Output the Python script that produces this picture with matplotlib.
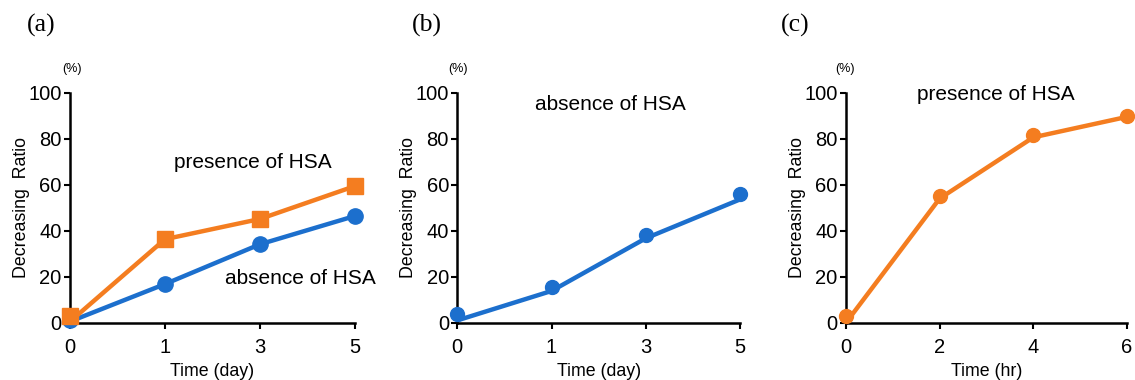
#!/usr/bin/env python3
# Three panels of decreasing ratio over time, with and without HSA.

import matplotlib
matplotlib.use('Agg')
import matplotlib.pyplot as plt

ORANGE = '#F47D20'
BLUE = '#1C6FCD'

# (a) days, shown as evenly spaced categories
days = ['0', '1', '3', '5']
a_presence = [2.9, 36.3, 45.1, 59.4]
a_absence = [1.0, 16.8, 34.1, 46.4]
a_presence_line = [0.5, 36.3, 45.1, 59.4]
a_absence_line = [0.5, 16.8, 34.1, 46.4]

# (b) absence of HSA, markers and the drawn line differ a little
b_absence = [3.6, 15.7, 38.1, 56.0]
b_absence_line = [1.0, 13.8, 36.7, 53.6]

# (c) hours
hours = [0, 2, 4, 6]
c_presence = [2.9, 55.2, 81.7, 89.7]
c_presence_line = [0.0, 54.0, 80.6, 89.5]

W, H = 1135, 380
plt.rcParams['font.family'] = ['Liberation Sans', 'DejaVu Sans']

fig = plt.figure(figsize=(W / 100, H / 100), dpi=100)


def make_axes(left, right):
    ax = fig.add_axes([left / W, 1 - 322.7 / H, (right - left) / W, (322.7 - 92.7) / H])
    ax.spines['top'].set_visible(False)
    ax.spines['right'].set_visible(False)
    for s in ('left', 'bottom'):
        ax.spines[s].set_linewidth(1.8)
    ax.tick_params(width=1.5, length=4, labelsize=14.5)
    ax.tick_params(axis='x', pad=7)
    ax.tick_params(axis='y', pad=2)
    ax.set_ylim(0, 100)
    ax.set_yticks([0, 20, 40, 60, 80, 100])
    ax.set_ylabel('Decreasing  Ratio', fontsize=12.8, labelpad=-1)
    return ax


# panel (a)
ax = make_axes(70, 355)
pos = range(len(days))
ax.plot(pos, a_absence_line, color=BLUE, lw=3.2, solid_capstyle='butt', clip_on=False)
ax.plot(pos, a_presence_line, color=ORANGE, lw=3.2, solid_capstyle='butt', clip_on=False)
ax.plot(pos, a_absence, 'o', color=BLUE, ms=11, clip_on=False, zorder=3)
ax.plot(pos, a_presence, 's', color=ORANGE, ms=11, clip_on=False, zorder=3)
ax.set_xlim(0, 3)
ax.set_xticks(list(pos))
ax.set_xticklabels(days)
ax.set_xlabel('Time (day)', fontsize=12.8, labelpad=4)
ax.text(174 / W, 1 - 163 / H, 'presence of HSA', transform=fig.transFigure,
        fontsize=15, va='center', ha='left')
ax.text(225 / W, 1 - 278 / H, 'absence of HSA', transform=fig.transFigure,
        fontsize=15, va='center', ha='left')

# panel (b)
ax = make_axes(457.3, 740)
ax.plot(pos, b_absence_line, color=BLUE, lw=3.2, solid_capstyle='butt', clip_on=False)
ax.plot(pos, b_absence, 'o', color=BLUE, ms=10, clip_on=False, zorder=3)
ax.set_xlim(0, 3)
ax.set_xticks(list(pos))
ax.set_xticklabels(days)
ax.set_xlabel('Time (day)', fontsize=12.8, labelpad=4)
ax.text(535 / W, 1 - 104 / H, 'absence of HSA', transform=fig.transFigure,
        fontsize=15, va='center', ha='left')

# panel (c)
ax = make_axes(846, 1127)
ax.plot(hours, c_presence_line, color=ORANGE, lw=3.2, solid_capstyle='butt', clip_on=False)
ax.plot(hours, c_presence, 'o', color=ORANGE, ms=10, clip_on=False, zorder=3)
ax.set_xlim(0, 6)
ax.set_xticks(hours)
ax.set_xlabel('Time (hr)', fontsize=12.8, labelpad=4)
ax.text(917 / W, 1 - 95 / H, 'presence of HSA', transform=fig.transFigure,
        fontsize=15, va='center', ha='left')

# panel letters and unit marks
for x, letter in [(27, '(a)'), (412, '(b)'), (781, '(c)')]:
    fig.text(x / W, 1 - 25 / H, letter, fontsize=18.5, family='Liberation Serif',
             va='center', ha='left')
for x in (72, 458, 845):
    fig.text(x / W, 1 - 69 / H, '(%)', fontsize=9, va='center', ha='center')

fig.savefig('out.png', dpi=100, facecolor='white')
